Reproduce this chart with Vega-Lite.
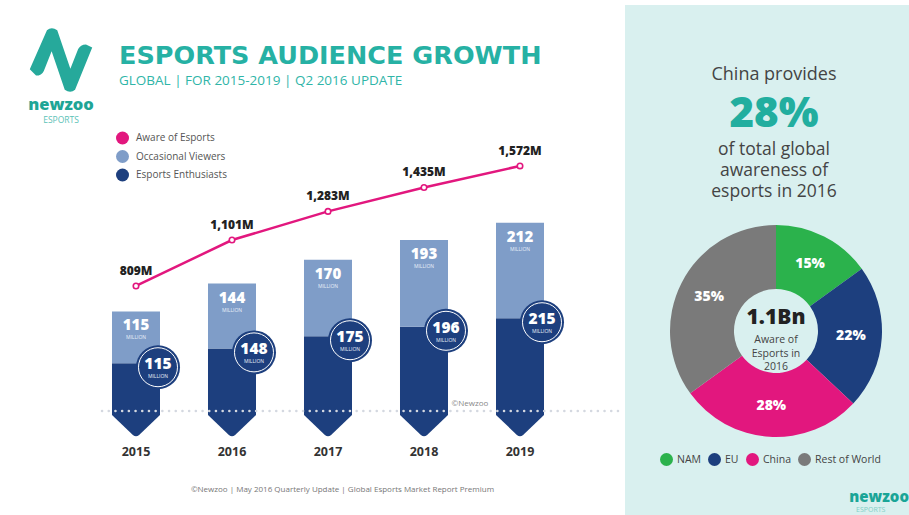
{
  "$schema": "https://vega.github.io/schema/vega-lite/v6.json",
  "background": "white",
  "padding": {"left": 28, "top": 5, "right": 0, "bottom": 0},
  "spacing": 5,
  "config": {"view": {"stroke": null}, "font": "Open Sans"},
  "resolve": {"scale": {"color": "independent"}, "legend": {"color": "independent"}},
  "datasets": {
    "audience": [
      {"year": "2015", "series": "Esports Enthusiasts", "value": 115},
      {"year": "2015", "series": "Occasional Viewers", "value": 115},
      {"year": "2016", "series": "Esports Enthusiasts", "value": 148},
      {"year": "2016", "series": "Occasional Viewers", "value": 144},
      {"year": "2017", "series": "Esports Enthusiasts", "value": 175},
      {"year": "2017", "series": "Occasional Viewers", "value": 170},
      {"year": "2018", "series": "Esports Enthusiasts", "value": 196},
      {"year": "2018", "series": "Occasional Viewers", "value": 193},
      {"year": "2019", "series": "Esports Enthusiasts", "value": 215},
      {"year": "2019", "series": "Occasional Viewers", "value": 212}
    ],
    "aware": [
      {"year": "2015", "value": 809},
      {"year": "2016", "value": 1101},
      {"year": "2017", "value": 1283},
      {"year": "2018", "value": 1435},
      {"year": "2019", "value": 1572}
    ],
    "regions": [
      {"region": "NAM", "share": 0.15},
      {"region": "EU", "share": 0.22},
      {"region": "China", "share": 0.28},
      {"region": "Rest of World", "share": 0.35}
    ]
  },
  "hconcat": [
    {
      "width": 66,
      "height": 80,
      "data": {"values": [{}]},
      "mark": {"type": "point", "shape": "M-1,0.3 L-0.45,-0.95 Q-0.3,-1.08 -0.12,-0.95 L0.3,0.28 L0.55,-0.35 Q0.62,-0.5 0.8,-0.5 L1,-0.4 L0.45,0.95 Q0.3,1.08 0.12,0.95 L-0.3,-0.28 L-0.55,0.35 Q-0.62,0.5 -0.8,0.5 Z", "size": 3900, "filled": true, "fill": "#26a99b", "opacity": 1, "strokeWidth": 0, "yOffset": 15},
      "title": {"text": "newzoo", "subtitle": "ESPORTS", "orient": "bottom", "anchor": "middle", "frame": "group", "font": "Open Sans", "fontSize": 16.5, "fontWeight": 800, "color": "#1fa596", "subtitleFont": "Open Sans", "subtitleFontSize": 8.5, "subtitleColor": "#5cc2b7", "offset": 5, "subtitlePadding": 3}
    },
    {
      "width": 517,
      "height": 435,
      "title": {"text": "ESPORTS AUDIENCE GROWTH", "subtitle": "GLOBAL | FOR 2015-2019 | Q2 2016 UPDATE", "anchor": "start", "frame": "group", "dx": 18, "font": "DejaVu Sans", "fontSize": 25.5, "fontWeight": "bold", "color": "#26b1a4", "subtitleFont": "Open Sans", "subtitleFontSize": 13.5, "subtitleColor": "#2fb5a8", "subtitlePadding": 4, "offset": -82},
      "data": {"name": "audience"},
      "layer": [
        {
          "mark": {"type": "bar"},
          "encoding": {
            "x": {"field": "year", "type": "ordinal", "scale": {"paddingInner": 0.5, "paddingOuter": 0.4427, "align": 0.1294}, "axis": {"title": "©Newzoo | May 2016 Quarterly Update | Global Esports Market Report Premium", "domain": false, "ticks": false, "grid": false, "labelAngle": 0, "labelPadding": 5, "labelFont": "Open Sans", "labelFontWeight": "bold", "labelFontSize": 12.5, "labelColor": "#333", "titleFont": "Open Sans", "titleFontSize": 8, "titleFontWeight": "normal", "titleColor": "#777", "titlePadding": 28, "titleX": 241}},
            "y": {"field": "value", "type": "quantitative", "stack": "zero", "scale": {"domain": [-55.6, 911.1], "nice": false, "zero": false}, "axis": null},
            "color": {"field": "series", "type": "nominal", "scale": {"domain": ["Aware of Esports", "Occasional Viewers", "Esports Enthusiasts"], "range": ["#e2177e", "#7f9dc8", "#1d3f7e"]}, "legend": {"title": null, "orient": "none", "direction": "vertical", "legendX": 15, "legendY": 126.5, "symbolType": "circle", "symbolSize": 169, "symbolStrokeWidth": 0, "labelFont": "Open Sans", "labelFontSize": 10, "labelColor": "#555", "rowPadding": 5.5, "labelOffset": 7, "padding": 0}},
            "order": {"field": "series", "sort": "ascending"}
          }
        },
        {
          "transform": [{"filter": "datum.series === 'Esports Enthusiasts'"}],
          "mark": {"type": "point", "shape": "M-1,-0.1 L1,-0.1 L1,0 L0.13,0.83 Q0,0.95 -0.13,0.83 L-1,0 Z", "size": 2304, "filled": true, "fill": "#1d3f7e", "opacity": 1, "strokeWidth": 0},
          "encoding": {
            "x": {"field": "year", "type": "ordinal"},
            "y": {"datum": 0, "type": "quantitative", "scale": {"domain": [-55.6, 911.1], "nice": false, "zero": false}, "axis": null}
          }
        },
        {
          "data": {"values": [{}]},
          "mark": {"type": "rule", "color": "#d4d8e0", "strokeWidth": 2.5, "strokeDash": [0.1, 6.6], "strokeCap": "round"},
          "encoding": {
            "y": {"datum": 9, "type": "quantitative", "scale": {"domain": [-55.6, 911.1], "nice": false, "zero": false}, "axis": null}
          }
        },
        {
          "transform": [
            {"stack": "value", "groupby": ["year"], "sort": [{"field": "series", "order": "ascending"}], "as": ["v0", "v1"]},
            {"filter": "datum.series === 'Occasional Viewers'"}
          ],
          "mark": {"type": "text", "baseline": "top", "dy": 7, "font": "Open Sans", "fontWeight": 800, "fontSize": 15, "color": "white"},
          "encoding": {
            "x": {"field": "year", "type": "ordinal"},
            "y": {"field": "v1", "type": "quantitative", "scale": {"domain": [-55.6, 911.1], "nice": false, "zero": false}, "axis": null},
            "text": {"field": "value", "type": "quantitative"}
          }
        },
        {
          "transform": [
            {"stack": "value", "groupby": ["year"], "sort": [{"field": "series", "order": "ascending"}], "as": ["v0", "v1"]},
            {"filter": "datum.series === 'Occasional Viewers'"}
          ],
          "mark": {"type": "text", "baseline": "top", "dy": 24, "font": "Open Sans", "fontSize": 5, "color": "#e8eef8", "text": "MILLION"},
          "encoding": {
            "x": {"field": "year", "type": "ordinal"},
            "y": {"field": "v1", "type": "quantitative", "scale": {"domain": [-55.6, 911.1], "nice": false, "zero": false}, "axis": null}
          }
        },
        {
          "transform": [{"filter": "datum.series === 'Esports Enthusiasts'"}],
          "mark": {"type": "point", "shape": "circle", "size": 1936, "filled": true, "fill": "#1d3f7e", "opacity": 1, "strokeWidth": 0, "xOffset": 22, "yOffset": 4},
          "encoding": {
            "x": {"field": "year", "type": "ordinal"},
            "y": {"field": "value", "type": "quantitative", "scale": {"domain": [-55.6, 911.1], "nice": false, "zero": false}, "axis": null}
          }
        },
        {
          "transform": [{"filter": "datum.series === 'Esports Enthusiasts'"}],
          "mark": {"type": "point", "shape": "circle", "size": 1521, "filled": false, "stroke": "white", "strokeWidth": 1, "opacity": 1, "xOffset": 22, "yOffset": 4},
          "encoding": {
            "x": {"field": "year", "type": "ordinal"},
            "y": {"field": "value", "type": "quantitative", "scale": {"domain": [-55.6, 911.1], "nice": false, "zero": false}, "axis": null}
          }
        },
        {
          "transform": [{"filter": "datum.series === 'Esports Enthusiasts'"}],
          "mark": {"type": "text", "baseline": "middle", "dx": 22, "dy": 1, "font": "Open Sans", "fontWeight": 800, "fontSize": 15.5, "color": "white"},
          "encoding": {
            "x": {"field": "year", "type": "ordinal"},
            "y": {"field": "value", "type": "quantitative", "scale": {"domain": [-55.6, 911.1], "nice": false, "zero": false}, "axis": null},
            "text": {"field": "value", "type": "quantitative"}
          }
        },
        {
          "transform": [{"filter": "datum.series === 'Esports Enthusiasts'"}],
          "mark": {"type": "text", "baseline": "middle", "dx": 22, "dy": 13, "font": "Open Sans", "fontSize": 5, "color": "#e8eef8", "text": "MILLION"},
          "encoding": {
            "x": {"field": "year", "type": "ordinal"},
            "y": {"field": "value", "type": "quantitative", "scale": {"domain": [-55.6, 911.1], "nice": false, "zero": false}, "axis": null}
          }
        },
        {
          "data": {"name": "aware"},
          "mark": {"type": "line", "color": "#e2177e", "strokeWidth": 2.5},
          "encoding": {
            "x": {"field": "year", "type": "ordinal"},
            "y": {"field": "value", "type": "quantitative", "scale": {"domain": [-170.4, 2595], "nice": false, "zero": false}, "axis": null}
          }
        },
        {
          "data": {"name": "aware"},
          "mark": {"type": "point", "shape": "circle", "size": 30, "filled": true, "fill": "white", "stroke": "#e2177e", "strokeWidth": 1.6, "opacity": 1},
          "encoding": {
            "x": {"field": "year", "type": "ordinal"},
            "y": {"field": "value", "type": "quantitative", "scale": {"domain": [-170.4, 2595], "nice": false, "zero": false}, "axis": null}
          }
        },
        {
          "data": {"name": "aware"},
          "transform": [{"calculate": "format(datum.value, ',') + 'M'", "as": "label"}],
          "mark": {"type": "text", "baseline": "bottom", "dy": -8, "font": "Open Sans", "fontWeight": 800, "fontSize": 12, "color": "#222"},
          "encoding": {
            "x": {"field": "year", "type": "ordinal"},
            "y": {"field": "value", "type": "quantitative", "scale": {"domain": [-170.4, 2595], "nice": false, "zero": false}, "axis": null},
            "text": {"field": "label"}
          }
        },
        {
          "data": {"values": [{"year": "2018", "note": "©Newzoo"}]},
          "mark": {"type": "text", "baseline": "middle", "dx": 46, "font": "Open Sans", "fontSize": 8, "color": "#888"},
          "encoding": {
            "x": {"field": "year", "type": "ordinal"},
            "y": {"datum": 25, "type": "quantitative", "scale": {"domain": [-55.6, 911.1], "nice": false, "zero": false}, "axis": null},
            "text": {"field": "note"}
          }
        }
      ],
      "resolve": {"scale": {"y": "independent"}}
    },
    {
      "width": 288,
      "height": 510,
      "view": {"fill": "#d9f0ef", "stroke": null},
      "data": {"name": "regions"},
      "layer": [
        {
          "mark": {"type": "arc", "outerRadius": 106, "innerRadius": 42, "xOffset": 7, "yOffset": 71},
          "encoding": {
            "theta": {"field": "share", "type": "quantitative", "stack": true},
            "order": {"field": "share", "sort": "ascending"},
            "color": {"field": "region", "type": "nominal", "scale": {"domain": ["NAM", "EU", "China", "Rest of World"], "range": ["#2bb24c", "#1d3f7e", "#e2177e", "#7a7a7a"]}, "legend": {"title": null, "orient": "none", "legendX": 35, "legendY": 448, "direction": "horizontal", "symbolType": "circle", "symbolSize": 169, "symbolStrokeWidth": 0, "labelFont": "Open Sans", "labelFontSize": 10.5, "labelColor": "#444", "labelOffset": 4, "columnPadding": 7, "padding": 0}}
          }
        },
        {
          "mark": {"type": "text", "radius": 75, "xOffset": 7, "yOffset": 71, "font": "Open Sans", "fontWeight": 800, "fontSize": 14, "color": "white"},
          "encoding": {
            "theta": {"field": "share", "type": "quantitative", "stack": true},
            "order": {"field": "share", "sort": "ascending"},
            "text": {"field": "share", "type": "quantitative", "format": ".0%"}
          }
        },
        {
          "data": {"values": [{}]},
          "mark": {"type": "text", "text": "1.1Bn", "dx": 7, "dy": 58, "baseline": "middle", "font": "Open Sans", "fontWeight": 800, "fontSize": 21, "color": "#222"}
        },
        {
          "data": {"values": [{}]},
          "mark": {"type": "text", "text": ["Aware of", "Esports in", "2016"], "dx": 7, "dy": 80, "baseline": "middle", "lineHeight": 13.5, "font": "Open Sans", "fontSize": 10.5, "color": "#444"}
        },
        {
          "data": {"values": [{}]},
          "mark": {"type": "text", "text": "China provides", "dx": 5, "dy": -185, "baseline": "middle", "font": "Open Sans", "fontSize": 18, "color": "#444"}
        },
        {
          "data": {"values": [{}]},
          "mark": {"type": "text", "text": "28%", "dx": 5, "dy": -146, "baseline": "middle", "font": "Open Sans", "fontWeight": 800, "fontSize": 42, "color": "#22ae9f"}
        },
        {
          "data": {"values": [{}]},
          "mark": {"type": "text", "text": ["of total global", "awareness of", "esports in 2016"], "dx": 5, "dy": -110, "baseline": "middle", "lineHeight": 21, "font": "Open Sans", "fontSize": 17.5, "color": "#444"}
        },
        {
          "data": {"values": [{}]},
          "mark": {"type": "text", "text": "newzoo", "align": "right", "dx": 140, "dy": 237, "baseline": "middle", "font": "Open Sans", "fontWeight": 800, "fontSize": 15, "color": "#1aa597"}
        },
        {
          "data": {"values": [{}]},
          "mark": {"type": "text", "text": "ESPORTS", "align": "left", "dx": 87, "dy": 250, "baseline": "middle", "font": "Open Sans", "fontSize": 7, "color": "#7fcfc6"}
        }
      ]
    }
  ]
}
